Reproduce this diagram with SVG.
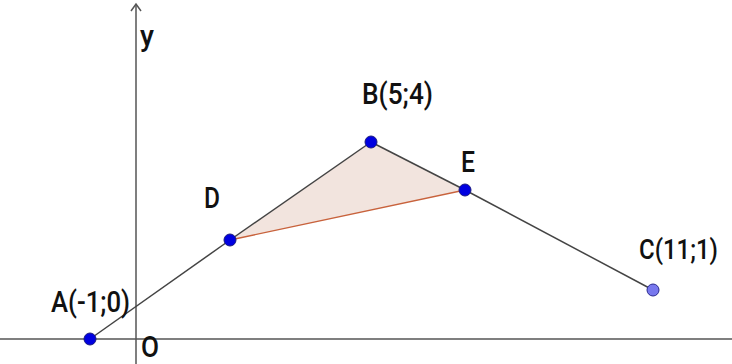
<svg xmlns="http://www.w3.org/2000/svg" width="732" height="364" viewBox="0 0 732 364">
<style>
.lbl{font-family:Roboto,"Liberation Sans",sans-serif;font-size:30px;font-weight:500;fill:#111;}
.pt{fill:#0000e0;stroke:#1a1a80;stroke-width:1;}
.seg{stroke:#444;stroke-width:1.5;fill:none;}
.axis{stroke:#555;stroke-width:1.5;fill:none;}
</style>
<rect width="732" height="364" fill="#fff"/>
<g id="axes">
<line class="axis" x1="0" y1="339" x2="732" y2="339"/>
<line class="axis" x1="136" y1="364" x2="136" y2="4"/>
<polyline class="axis" points="131,11 136,4 141,11"/>
<text class="lbl" x="140" y="46" textLength="14" lengthAdjust="spacingAndGlyphs">y</text>
<text class="lbl" x="141" y="357" textLength="18" lengthAdjust="spacingAndGlyphs">O</text>
</g>
<g id="triangle">
<polygon points="230,240 371,142 465,190" fill="#f2e4de"/>
</g>
<g id="connectors">
<line class="seg" x1="90" y1="339" x2="230" y2="240"/>
<line class="seg" x1="230" y1="240" x2="371" y2="142" stroke="#222"/>
<line class="seg" x1="371" y1="142" x2="465" y2="190" stroke="#222"/>
<line class="seg" x1="465" y1="190" x2="653" y2="290"/>
<line x1="230" y1="240" x2="465" y2="190" stroke="#c8623c" stroke-width="1.3"/>
</g>
<g id="A"><circle class="pt" cx="90" cy="339" r="6"/><text class="lbl" x="51" y="312" textLength="79" lengthAdjust="spacingAndGlyphs">A(-1;0)</text></g>
<g id="D"><circle class="pt" cx="230" cy="240" r="6"/><text class="lbl" x="204" y="208" textLength="16" lengthAdjust="spacingAndGlyphs">D</text></g>
<g id="B"><circle class="pt" cx="371" cy="142" r="6"/><text class="lbl" x="362" y="104" textLength="71" lengthAdjust="spacingAndGlyphs">B(5;4)</text></g>
<g id="E"><circle class="pt" cx="465" cy="190" r="6"/><text class="lbl" x="461" y="172" textLength="14" lengthAdjust="spacingAndGlyphs">E</text></g>
<g id="C"><circle cx="653" cy="290" r="6" fill="#7878ee" stroke="#2a2a90" stroke-width="1"/><text class="lbl" x="639" y="259" style="font-size:27px" textLength="79" lengthAdjust="spacingAndGlyphs">C(11;1)</text></g>
</svg>
